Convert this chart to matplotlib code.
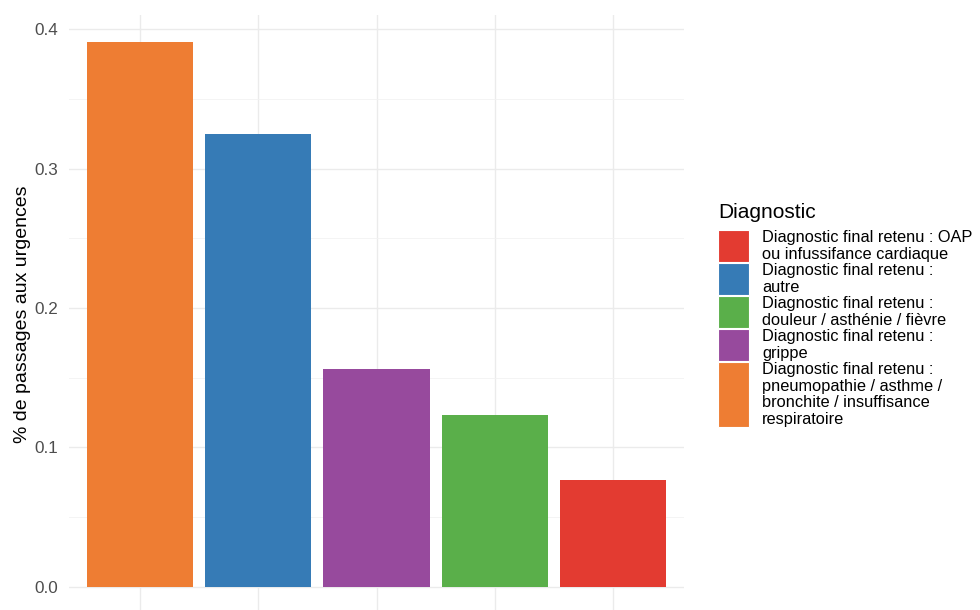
import matplotlib
matplotlib.use("Agg")
import matplotlib.pyplot as plt
from matplotlib.patches import Rectangle

plt.rcParams['font.family'] = ['Liberation Sans', 'DejaVu Sans']

# Data (bars in display order, descending)
categories = [
    "Diagnostic final retenu : pneumopathie / asthme / bronchite / insuffisance respiratoire",
    "Diagnostic final retenu : autre",
    "Diagnostic final retenu : grippe",
    "Diagnostic final retenu : douleur / asthénie / fièvre",
    "Diagnostic final retenu : OAP ou infussifance cardiaque",
]
values = [0.391, 0.3245, 0.1565, 0.1235, 0.0768]
bar_colors = ["#EE7D33", "#367BB6", "#974A9D", "#5AAF4A", "#E33B31"]

# Legend (alphabetical, as in ggplot)
legend_title = "Diagnostic"
legend_labels = [
    "Diagnostic final retenu : OAP\nou infussifance cardiaque",
    "Diagnostic final retenu :\nautre",
    "Diagnostic final retenu :\ndouleur / asthénie / fièvre",
    "Diagnostic final retenu :\ngrippe",
    "Diagnostic final retenu :\npneumopathie / asthme /\nbronchite / insuffisance\nrespiratoire",
]
legend_colors = ["#E33B31", "#367BB6", "#5AAF4A", "#974A9D", "#EE7D33"]
y_ticks = [0.0, 0.1, 0.2, 0.3, 0.4]
y_label = "% de passages aux urgences"

W, H = 980, 610
fig = plt.figure(figsize=(W / 100, H / 100), dpi=100)

# main panel in pixel coords
x0, x1 = 69, 684
ytop, ybot = 14.5, 614
ax = fig.add_axes([x0 / W, 1 - ybot / H, (x1 - x0) / W, (ybot - ytop) / H])
xs = list(range(1, len(values) + 1))
ax.bar(xs, values, width=0.9, color=bar_colors, zorder=3)
ax.set_xlim(0.4, len(values) + 0.6)
ymax = max(values)
ax.set_ylim(-0.05 * ymax, ymax * 1.05)
ax.set_yticks(y_ticks)
ax.set_yticklabels([f"{t:.1f}" for t in y_ticks])
ax.set_yticks([0.05, 0.15, 0.25, 0.35], minor=True)
ax.set_xticks(xs)
ax.set_xticklabels([])
ax.tick_params(axis='both', which='both', length=0, labelsize=12.3,
               labelcolor="#4D4D4D", pad=8)
ax.grid(True, which='major', color="#EBEBEB", linewidth=1.0, zorder=0)
ax.grid(True, which='minor', axis='y', color="#F2F2F2", linewidth=0.6, zorder=0)
for s in ax.spines.values():
    s.set_visible(False)
ax.set_ylabel(y_label, fontsize=14, color="black", labelpad=2)

# legend drawn manually in pixel space
lax = fig.add_axes([0, 0, 1, 1])
lax.set_xlim(0, W)
lax.set_ylim(H, 0)
lax.axis('off')
lax.text(718, 213, legend_title, fontsize=15, va='center', ha='left')
y = 229.5
line_h = 16.5
for lab, col in zip(legend_labels, legend_colors):
    n = lab.count("\n") + 1
    h = max(n, 2) * line_h
    lax.add_patch(Rectangle((718, y + 0.5), 31, h - 1, facecolor=col,
                            edgecolor='white', linewidth=0.8))
    lax.text(762, y + h / 2, lab, fontsize=11.8, va='center', ha='left',
             linespacing=1.12)
    y += h

fig.savefig("out.png", dpi=100)
